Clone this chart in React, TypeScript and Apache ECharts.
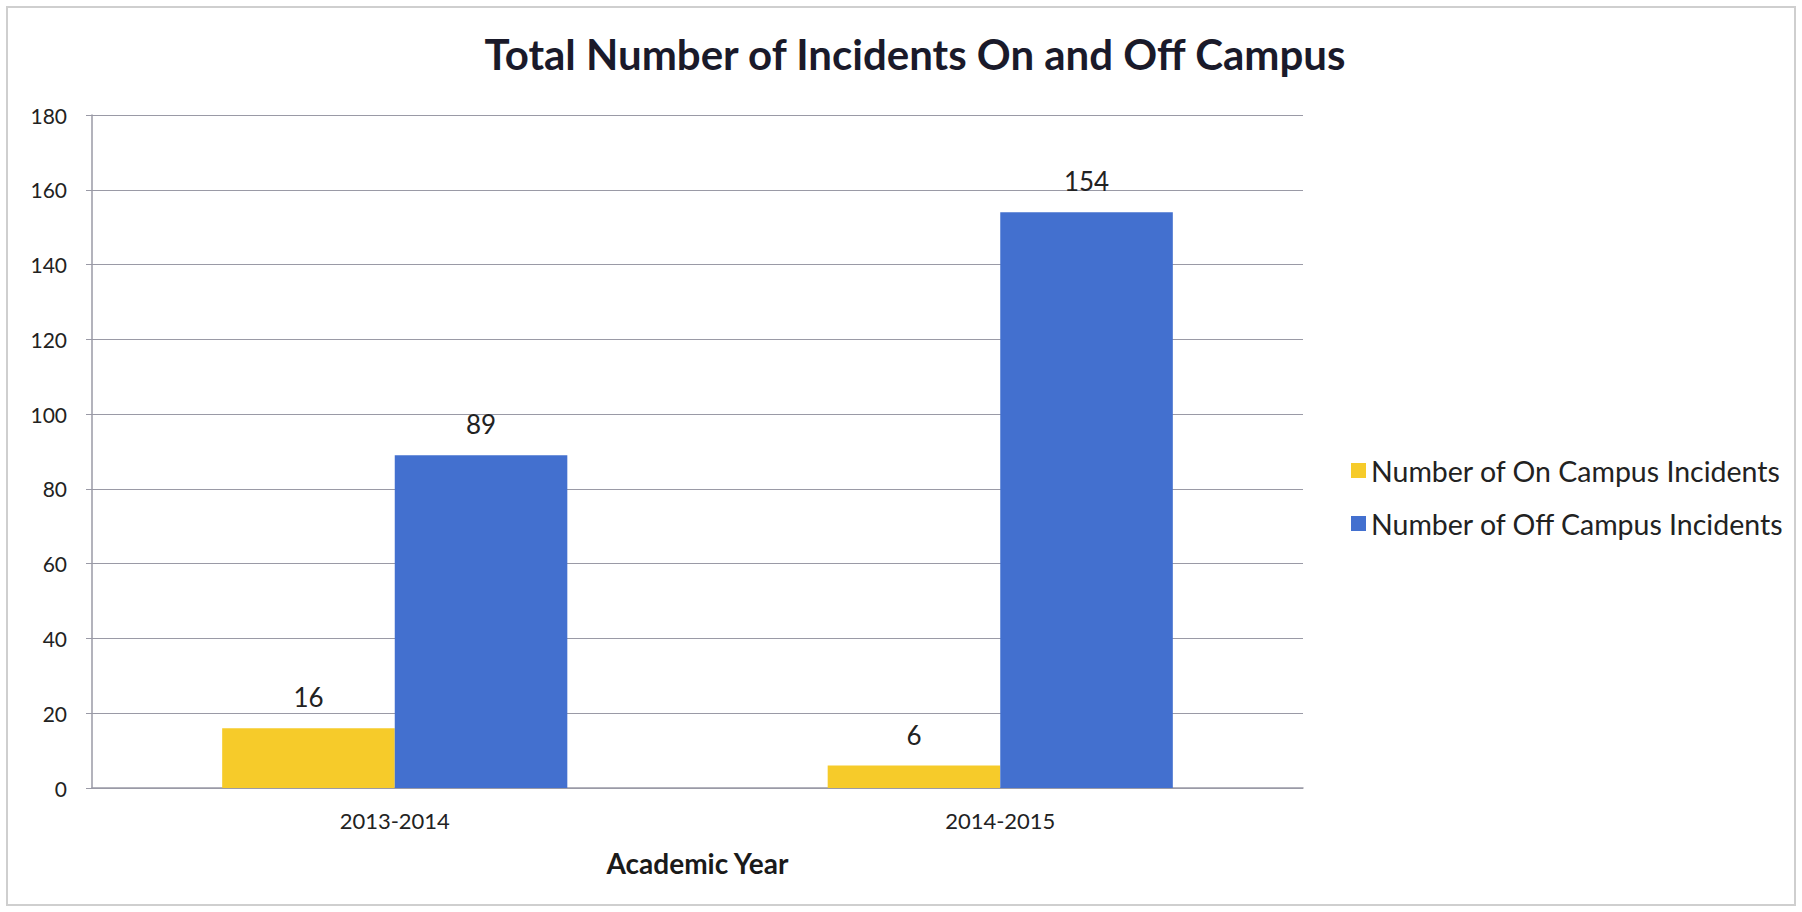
import React, { useEffect, useRef } from "react";
import * as echarts from "echarts";

const categories = ["2013-2014", "2014-2015"];
const onCampus = [16, 6];
const offCampus = [89, 154];
const seriesNames = ["Number of On Campus Incidents", "Number of Off Campus Incidents"];
const yTicks = { min: 0, max: 180, interval: 20 };

const FONT = "Lato, 'Open Sans', sans-serif";

export default function App() {
  const ref = useRef<HTMLDivElement>(null);
  useEffect(() => {
    document.body.style.margin = "0";
    const chart = echarts.init(ref.current!, null, { renderer: "svg" });
    chart.setOption({
      animation: false,
      backgroundColor: "#ffffff",
      textStyle: { fontFamily: FONT },
      title: {
        text: "Total Number of Incidents On and Off Campus",
        left: 910,
        textAlign: "center",
        top: 28,
        textStyle: { fontFamily: FONT, fontSize: 42, fontWeight: "bold", color: "#1a1a2a" },
      },
      graphic: [
        {
          type: "rect",
          shape: { x: 7, y: 7, width: 1788, height: 898 },
          style: { fill: "none", stroke: "#cfcfcf", lineWidth: 2 },
        },
      ],
      legend: {
        orient: "vertical",
        left: 1346,
        top: 451,
        itemWidth: 15,
        itemHeight: 15,
        itemGap: 24,
        itemTextGap: 6,
        icon: "rect",
        textStyle: { fontFamily: FONT, fontSize: 28.5, color: "#222" },
        data: seriesNames,
      },
      grid: { left: 92, right: 499, top: 115, bottom: 124, containLabel: false },
      xAxis: {
        type: "category",
        data: categories,
        name: "Academic Year",
        nameLocation: "middle",
        nameGap: 61,
        nameTextStyle: { fontFamily: FONT, fontSize: 28, fontWeight: "bold", color: "#1a1a1a" },
        axisLine: { lineStyle: { color: "#9a9aa6", width: 1.5 } },
        axisTick: { show: false },
        axisLabel: { fontFamily: FONT, fontSize: 22, color: "#222", margin: 21 },
      },
      yAxis: {
        type: "value",
        min: yTicks.min,
        max: yTicks.max,
        interval: yTicks.interval,
        axisLine: { show: true, lineStyle: { color: "#9a9aa6", width: 1.5 } },
        axisTick: { show: true, length: 6, lineStyle: { color: "#9a9aa6" } },
        axisLabel: { fontFamily: FONT, fontSize: 21, color: "#222", margin: 25 },
        splitLine: { lineStyle: { color: "#9a9aa6", width: 1.2 } },
      },
      series: [
        {
          name: seriesNames[0],
          type: "bar",
          data: onCampus,
          barGap: "0%",
          barCategoryGap: "43%",
          itemStyle: { color: "#F6CB2A" },
          label: { show: true, position: "top", distance: 18, fontFamily: FONT, fontSize: 26, color: "#222" },
        },
        {
          name: seriesNames[1],
          type: "bar",
          data: offCampus,
          barGap: "0%",
          barCategoryGap: "43%",
          itemStyle: { color: "#4370CF" },
          label: { show: true, position: "top", distance: 18, fontFamily: FONT, fontSize: 26, color: "#222" },
        },
      ],
    });
    return () => chart.dispose();
  }, []);
  return <div ref={ref} style={{ width: 1802, height: 912 }} />;
}
